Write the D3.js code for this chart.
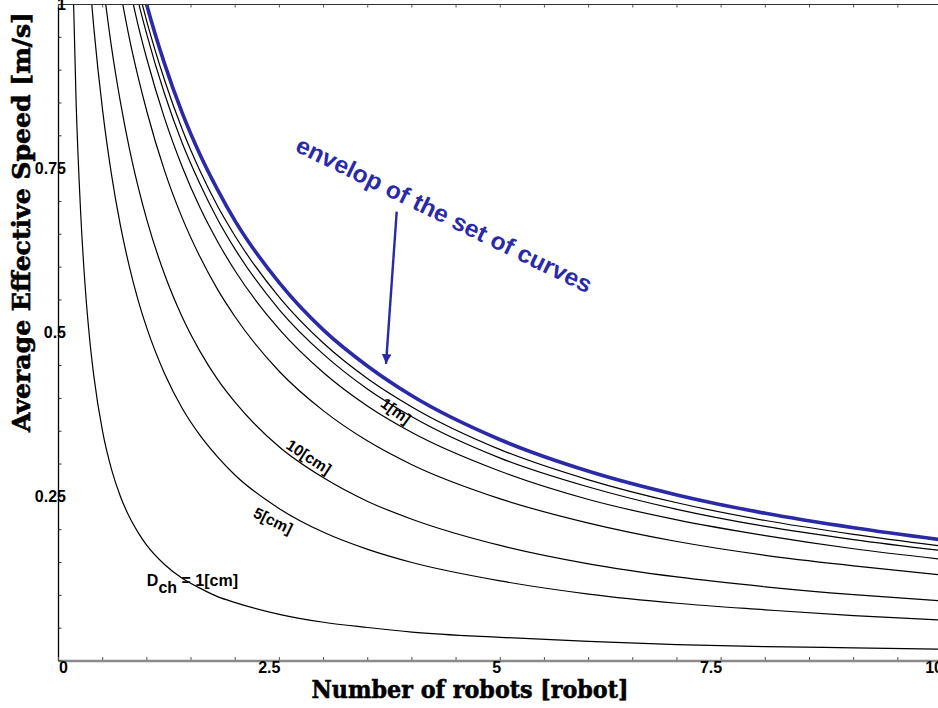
<html>
<head>
<script src="https://cdnjs.cloudflare.com/ajax/libs/d3/7.8.5/d3.min.js"></script>
<style>
  body { margin: 0; background: #fff; }
  text { font-family: "Liberation Sans", Arial, sans-serif; }
</style>
</head>
<body>
<svg width="938" height="708"></svg>
<script>
// number of robots (shared grid for every curve)
let robots = [0.15, 0.2, 0.25, 0.3, 0.35, 0.4, 0.5, 0.6, 0.7, 0.8, 0.9, 1.0, 1.2, 1.4, 1.6, 1.8, 2.0, 2.5, 3, 3.5, 4, 5, 6, 7, 8, 9, 10];

// average effective speed [m/s], one array per channel distance (null = above the frame)
let dch1cm  = [1.11, 0.848, 0.685, 0.574, 0.494, 0.434, 0.349, 0.292, 0.251, 0.220, 0.196, 0.176, 0.147, 0.126, 0.111, 0.098, 0.089, 0.071, 0.059, 0.051, 0.044, 0.036, 0.030, 0.025, 0.022, 0.020, 0.018];
let dch5cm  = [null, null, null, 1.134, 1.042, 0.964, 0.838, 0.741, 0.664, 0.602, 0.550, 0.507, 0.438, 0.385, 0.344, 0.311, 0.283, 0.232, 0.196, 0.170, 0.150, 0.122, 0.102, 0.088, 0.078, 0.069, 0.0625];
let dch10cm = [null, null, null, null, null, null, 1.037, 0.935, 0.852, 0.782, 0.723, 0.672, 0.589, 0.524, 0.472, 0.429, 0.394, 0.326, 0.279, 0.243, 0.216, 0.176, 0.148, 0.128, 0.113, 0.101, 0.0915];
let dch4    = [null, null, null, null, null, null, null, null, 1.020, 0.950, 0.890, 0.837, 0.747, 0.675, 0.616, 0.566, 0.524, 0.441, 0.381, 0.335, 0.299, 0.247, 0.210, 0.182, 0.161, 0.145, 0.131];
let dch1m   = [null, null, null, null, null, null, null, null, null, 1.029, 0.969, 0.917, 0.827, 0.753, 0.691, 0.639, 0.594, 0.505, 0.439, 0.388, 0.348, 0.289, 0.246, 0.215, 0.191, 0.171, 0.155];
let dch6    = [null, null, null, null, null, null, null, null, null, 1.065, 1.006, 0.954, 0.864, 0.789, 0.727, 0.673, 0.627, 0.535, 0.467, 0.414, 0.372, 0.309, 0.265, 0.231, 0.205, 0.185, 0.168];
let dch7    = [null, null, null, null, null, null, null, null, null, null, 1.026, 0.974, 0.885, 0.810, 0.747, 0.693, 0.647, 0.554, 0.484, 0.430, 0.387, 0.322, 0.276, 0.241, 0.214, 0.193, 0.175];
let envelope = [null, null, null, null, null, null, null, null, null, null, 1.051, 0.999, 0.910, 0.835, 0.772, 0.718, 0.670, 0.576, 0.504, 0.449, 0.404, 0.337, 0.289, 0.253, 0.225, 0.203, 0.1845];

let xTickLabels = [0, 2.5, 5, 7.5, 10];
let yTickLabels = [0.25, 0.5, 0.75, 1];

var svg = d3.select("svg");
var blue = "#2a2aa8";

var x = d3.scaleLinear().domain([0, 10]).range([58.5, 942]);
var y = d3.scaleLinear().domain([0, 1]).range([661, 4.5]);

svg.append("clipPath").attr("id", "plot")
  .append("rect")
  .attr("x", x(0)).attr("y", y(1))
  .attr("width", x(10) - x(0)).attr("height", y(0) - y(1));

var line = d3.line()
  .defined(d => d[1] != null)
  .x(d => x(d[0]))
  .y(d => y(d[1]))
  .curve(d3.curveMonotoneX);

var curves = [dch1cm, dch5cm, dch10cm, dch4, dch1m, dch6, dch7];
var g = svg.append("g").attr("clip-path", "url(#plot)");

g.selectAll("path.curve")
  .data(curves)
  .enter()
  .append("path")
  .attr("class", "curve")
  .attr("d", vals => line(robots.map((n, i) => [n, vals[i]])))
  .attr("fill", "none")
  .attr("stroke", "#000")
  .attr("stroke-width", 1.2);

g.append("path")
  .attr("d", line(robots.map((n, i) => [n, envelope[i]])))
  .attr("fill", "none")
  .attr("stroke", blue)
  .attr("stroke-width", 3.6);

// frame and axes
svg.append("line")
  .attr("x1", x(0)).attr("x2", x(10)).attr("y1", y(1)).attr("y2", y(1))
  .attr("stroke", "#333").attr("stroke-width", 1.2);
svg.append("line")
  .attr("x1", x(0)).attr("x2", x(0)).attr("y1", y(1)).attr("y2", y(0))
  .attr("stroke", "#000").attr("stroke-width", 1.3);
svg.append("line")
  .attr("x1", x(0)).attr("x2", x(10)).attr("y1", y(0)).attr("y2", y(0))
  .attr("stroke", "#8a8a8a").attr("stroke-width", 2.6);

var halfSteps = d3.range(0, 10.01, 0.5);
var ySteps = d3.range(0, 1.001, 0.05);

svg.selectAll("line.xb").data(halfSteps).enter().append("line")
  .attr("class", "xb")
  .attr("x1", d => x(d)).attr("x2", d => x(d))
  .attr("y1", y(0) - 1).attr("y2", y(0) - 4)
  .attr("stroke", "#555").attr("stroke-width", 1);

svg.selectAll("line.xt").data(halfSteps).enter().append("line")
  .attr("class", "xt")
  .attr("x1", d => x(d)).attr("x2", d => x(d))
  .attr("y1", y(1)).attr("y2", y(1) + 3)
  .attr("stroke", "#555").attr("stroke-width", 1);

svg.selectAll("line.yl").data(ySteps).enter().append("line")
  .attr("class", "yl")
  .attr("x1", x(0)).attr("x2", x(0) + 3)
  .attr("y1", d => y(d)).attr("y2", d => y(d))
  .attr("stroke", "#333").attr("stroke-width", 1);

// tick labels
svg.selectAll("text.xlab").data(xTickLabels).enter().append("text")
  .attr("class", "xlab")
  .attr("x", (d, i) => i == 0 ? x(d) + 0.5 : x(d) + 1)
  .attr("y", 673)
  .attr("text-anchor", (d, i) => i == 0 ? "start" : "end")
  .attr("font-size", 16).attr("font-weight", "bold")
  .text(d => d);

svg.selectAll("text.ylab").data(yTickLabels).enter().append("text")
  .attr("class", "ylab")
  .attr("x", 66)
  .attr("y", d => y(d) + 5.5)
  .attr("text-anchor", "end")
  .attr("font-size", 16).attr("font-weight", "bold")
  .text(d => d);

// axis titles
svg.append("text")
  .attr("transform", "translate(30,222) rotate(-90)")
  .attr("text-anchor", "middle")
  .attr("textLength", 420).attr("lengthAdjust", "spacingAndGlyphs")
  .style("font-family", "'DejaVu Serif', serif")
  .attr("font-size", 24).attr("font-weight", "bold")
  .attr("stroke", "#000").attr("stroke-width", 0.6)
  .text("Average Effective Speed [m/s]");

svg.append("text")
  .attr("x", 470).attr("y", 698)
  .attr("text-anchor", "middle")
  .attr("textLength", 317).attr("lengthAdjust", "spacingAndGlyphs")
  .style("font-family", "'DejaVu Serif', serif")
  .attr("font-size", 25).attr("font-weight", "bold")
  .attr("stroke", "#000").attr("stroke-width", 0.6)
  .text("Number of robots [robot]");

// curve labels
var dl = svg.append("text")
  .attr("x", x(1.0)).attr("y", y(0.1143))
  .attr("font-size", 16).attr("font-weight", "bold");
dl.append("tspan").text("D");
dl.append("tspan").attr("dy", 7).text("ch");
dl.append("tspan").attr("dy", -7).text(" = 1[cm]");

var rotLabels = [
  {n: 2.43, v: 0.214, a: 26, t: "5[cm]"},
  {n: 2.835, v: 0.311, a: 33, t: "10[cm]"},
  {n: 3.82, v: 0.381, a: 36, t: "1[m]"}
];
svg.selectAll("text.cl").data(rotLabels).enter().append("text")
  .attr("class", "cl")
  .attr("transform", d => "translate(" + x(d.n) + "," + y(d.v) + ") rotate(" + d.a + ")")
  .attr("text-anchor", "middle")
  .attr("dy", 5.5)
  .attr("font-size", 15.5).attr("font-weight", "bold")
  .text(d => d.t);

// envelope annotation
svg.append("text")
  .attr("transform", "translate(" + x(2.665) + "," + y(0.7774) + ") rotate(26)")
  .attr("textLength", 326).attr("lengthAdjust", "spacingAndGlyphs")
  .attr("font-size", 24).attr("font-weight", "bold")
  .attr("fill", blue)
  .text("envelop of the set of curves");

svg.append("defs").append("marker")
  .attr("id", "arrow")
  .attr("viewBox", "0 0 10 10")
  .attr("refX", 10).attr("refY", 5)
  .attr("markerWidth", 4).attr("markerHeight", 4)
  .attr("orient", "auto")
  .append("path").attr("d", "M0,0 L10,5 L0,10 z").attr("fill", blue);

svg.append("line")
  .attr("x1", x(3.828)).attr("y1", y(0.6845))
  .attr("x2", x(3.707)).attr("y2", y(0.4527))
  .attr("stroke", blue).attr("stroke-width", 2.4)
  .attr("marker-end", "url(#arrow)");
</script>
</body>
</html>
